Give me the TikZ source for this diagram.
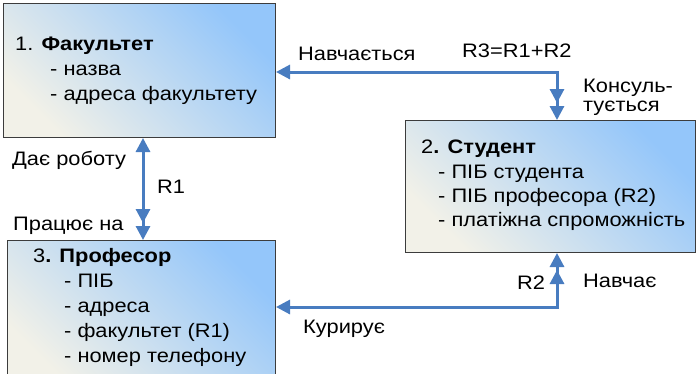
\documentclass[tikz,border=0pt]{standalone}
\usepackage{fontspec}
\setmainfont[FakeStretch=1.12]{Liberation Sans}
\usetikzlibrary{arrows.meta}
\definecolor{arrowblue}{RGB}{72,124,192}
\definecolor{boxblue}{RGB}{148,198,250}
\definecolor{boxmid}{RGB}{196,222,246}
\definecolor{boxlight}{RGB}{242,241,232}
\definecolor{boxline}{RGB}{60,60,60}
\tikzset{
  entbox/.style={draw=boxline, line width=1pt, anchor=north west, inner sep=0pt,
    top color=boxblue, middle color=boxmid, bottom color=boxlight, shading angle=-45},
  txt/.style={anchor=base west, inner sep=0pt, font=\fontsize{19.5}{22}\selectfont},
  rel/.style={draw=arrowblue, line width=3pt},
  one/.style={{Triangle[length=14pt,width=14pt]}-{Triangle[length=14pt,width=14pt,sep=3pt]Triangle[length=14pt,width=14pt]}},
}
\begin{document}
\begin{tikzpicture}[x=1pt,y=-1pt]
\clip (0,0) rectangle (696,373);
\fill[white] (0,0) rectangle (696,373);
% boxes
\node[entbox, minimum width=272pt, minimum height=134pt] (f) at (3,3) {};
\node[entbox, minimum width=290pt, minimum height=132pt] (s) at (405,120) {};
\node[entbox, minimum width=268pt, minimum height=145pt] (p) at (7,240) {};
% box 1 text
\node[txt] (f0) at (15,50) {1. \textbf{Факультет}};
\node[txt] (f1) at (50,75) {- назва};
\node[txt] (f2) at (50,100) {- адреса факультету};
% box 2 text
\node[txt] (s0) at (421,153) {2\textbf{. Студент}};
\node[txt] (s1) at (438,178) {- ПІБ студента};
\node[txt] (s2) at (438,202) {- ПІБ професора (R2)};
\node[txt] (s3) at (438,226) {- платіжна спроможність};
% box 3 text
\node[txt] (p0) at (33,262) {3\textbf{. Професор}};
\node[txt] (p1) at (64,287) {- ПІБ};
\node[txt] (p2) at (64,312) {- адреса};
\node[txt] (p3) at (64,337) {- факультет (R1)};
\node[txt] (p4) at (64,362) {- номер телефону};
% connectors
\coordinate (c1) at (557,72);
\coordinate (c2) at (143,190);
\coordinate (c3) at (557,307);
\draw[rel, one] (c1 -| f.east) -- (c1) -- (c1 |- s.north);
\draw[rel, one] (c2 |- f.south) -- (c2 |- p.north);
\draw[rel, one] (c3 -| p.east) -- (c3) -- (c3 |- s.south);
% labels
\node[txt] (l1) at (298,60) {Навчається};
\node[txt] (l2) at (462,57) {R3=R1+R2};
\node[txt] (l3) at (583,92) {Консуль-};
\node[txt] (l4) at (583,111) {тується};
\node[txt] (l5) at (12,165) {Дає роботу};
\node[txt] (l6) at (157,193) {R1};
\node[txt] (l7) at (13,230) {Працює на};
\node[txt] (l8) at (517,289) {R2};
\node[txt] (l9) at (583,287) {Навчає};
\node[txt] (l10) at (303,333) {Курирує};
\end{tikzpicture}
\end{document}
